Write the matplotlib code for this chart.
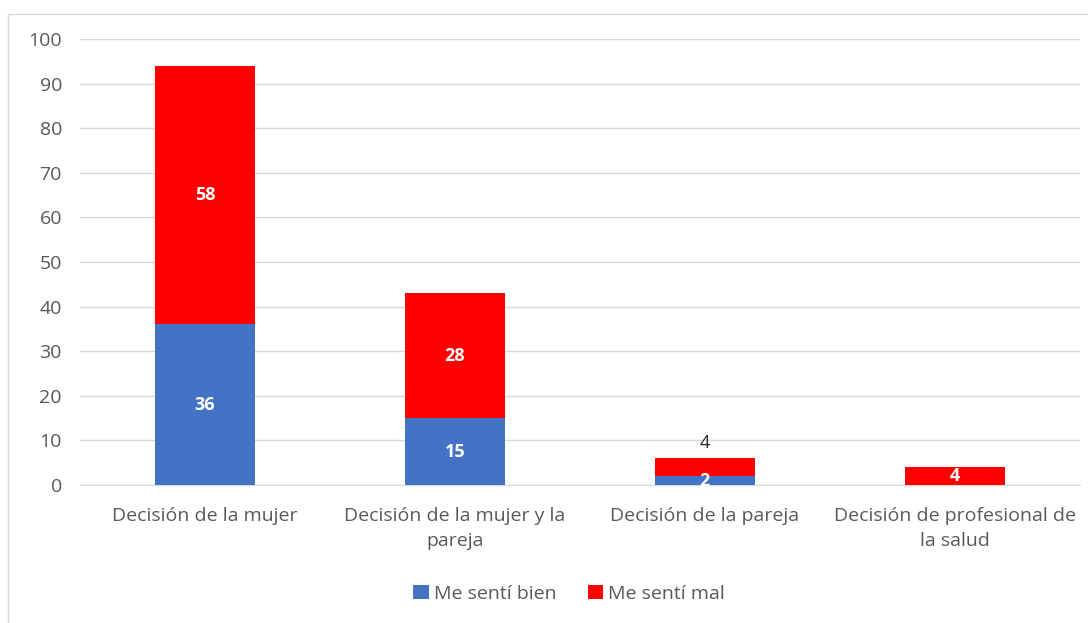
import matplotlib.pyplot as plt
from matplotlib.patches import Rectangle
import numpy as np

categories = ['Decisión de la mujer', 'Decisión de la mujer y la\npareja',
              'Decisión de la pareja', 'Decisión de profesional de\nla salud']
bien = [36, 15, 2, 0]
mal = [58, 28, 4, 4]
series_names = ['Me sentí bien', 'Me sentí mal']

plt.rcParams['font.family'] = ['Open Sans', 'DejaVu Sans']

fig = plt.figure(figsize=(10.88, 6.23), dpi=100)
ax = fig.add_axes([0.0735, 0.2215, 0.919, 0.7159])

# outer chart border
fig.patches.append(Rectangle((8 / 1088, -0.01), 1.1, (623 - 14) / 623 + 0.01,
                             transform=fig.transFigure, fill=False,
                             edgecolor='#d9d9d9', linewidth=1))

x = np.arange(len(categories))
b1 = ax.bar(x, bien, width=0.4, color='#4472c4', label=series_names[0], zorder=3)
b2 = ax.bar(x, mal, width=0.4, bottom=bien, color='#ff0000', label=series_names[1], zorder=3)

for i in range(len(categories)):
    if bien[i] > 0:
        ax.text(x[i], bien[i] / 2, str(bien[i]), ha='center', va='center',
                color='white', fontsize=13, fontweight='bold', zorder=4)
    if mal[i] > 0:
        if i == 2:
            ax.text(x[i], bien[i] + mal[i] + 1.5, str(mal[i]), ha='center', va='bottom',
                    color='#262626', fontsize=13, zorder=4)
        else:
            ax.text(x[i], bien[i] + mal[i] / 2, str(mal[i]), ha='center', va='center',
                    color='white', fontsize=13, fontweight='bold', zorder=4)

ax.set_xlim(-0.5, 3.5)
ax.set_ylim(0, 100)
ax.set_yticks(range(0, 101, 10))
ax.set_xticks(x)
ax.set_xticklabels(categories, linespacing=1.5)
ax.grid(axis='y', color='#d9d9d9', linewidth=1, zorder=0)
for s in ['top', 'right', 'left']:
    ax.spines[s].set_visible(False)
ax.spines['bottom'].set_color('#d9d9d9')
ax.tick_params(axis='both', length=0, colors='#595959', labelsize=14)
ax.tick_params(axis='x', pad=16)
ax.tick_params(axis='y', pad=13)

fig.legend(handles=[b1, b2], loc='center', bbox_to_anchor=(0.523, 0.047), ncol=2,
           frameon=False, fontsize=14, handlelength=0.8, handleheight=0.8,
           handletextpad=0.25, columnspacing=1.6, labelcolor='#595959')

fig.savefig('out.png', dpi=100)
